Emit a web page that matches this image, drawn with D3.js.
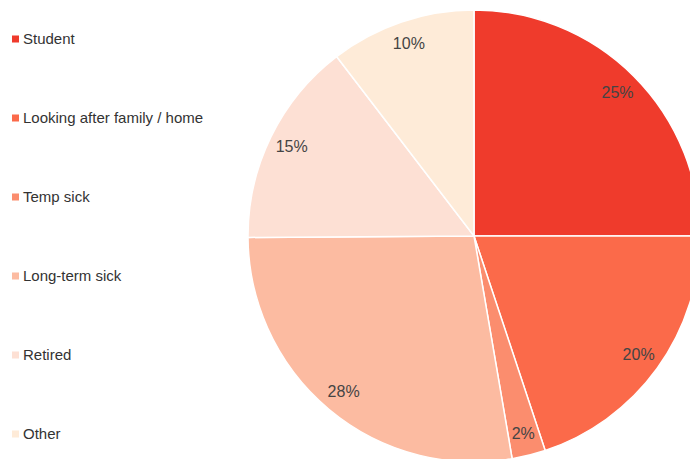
<!DOCTYPE html>
<html><head><meta charset="utf-8">
<script src="https://cdn.jsdelivr.net/npm/d3@7"></script>
<style>html,body{margin:0;padding:0;background:#fff;overflow:hidden}</style>
</head><body>
<svg id="chart" width="690" height="459"></svg>
<script>
const categories = ["Student","Looking after family / home","Temp sick","Long-term sick","Retired","Other"];
const values = [25,19.9,2.4,27.6,14.7,10.4];
const labels = ["25%","20%","2%","28%","15%","10%"];
const colors = ["#ef3b2c","#fb6a4a","#fb8d6e","#fcbba1","#fde0d4","#feebd8"];

const svg = d3.select("#chart");
const cx = 474, cy = 236, R = 226;
const pie = d3.pie().sort(null).value(d => d.v);
const data = categories.map((c,i) => ({c, v: values[i], l: labels[i], col: colors[i]}));
const arcs = pie(data);
const arc = d3.arc().innerRadius(0).outerRadius(R);
const labelArc = d3.arc().innerRadius(203).outerRadius(203);
const g = svg.append("g").attr("transform", `translate(${cx},${cy})`);
g.selectAll("path").data(arcs).join("path")
  .attr("d", arc).attr("fill", d => d.data.col)
  .attr("stroke", "#fff").attr("stroke-width", 1.5);
g.selectAll("text").data(arcs).join("text")
  .attr("transform", d => `translate(${labelArc.centroid(d)})`)
  .attr("text-anchor","middle").attr("dy","0.35em")
  .attr("font-family","Liberation Sans, Arial, sans-serif")
  .attr("font-size", 16).attr("fill","#444")
  .text(d => d.data.l);

const leg = svg.append("g");
const rows = leg.selectAll("g").data(data).join("g")
  .attr("transform", (d,i) => `translate(12,${39 + i*79})`);
rows.append("rect").attr("x",0).attr("y",-3.5).attr("width",7).attr("height",7).attr("fill", d => d.col);
rows.append("text").attr("x",11).attr("dy","0.35em")
  .attr("font-family","Liberation Sans, Arial, sans-serif")
  .attr("font-size",15).attr("fill","#333").text(d => d.c);
</script>
</body></html>
